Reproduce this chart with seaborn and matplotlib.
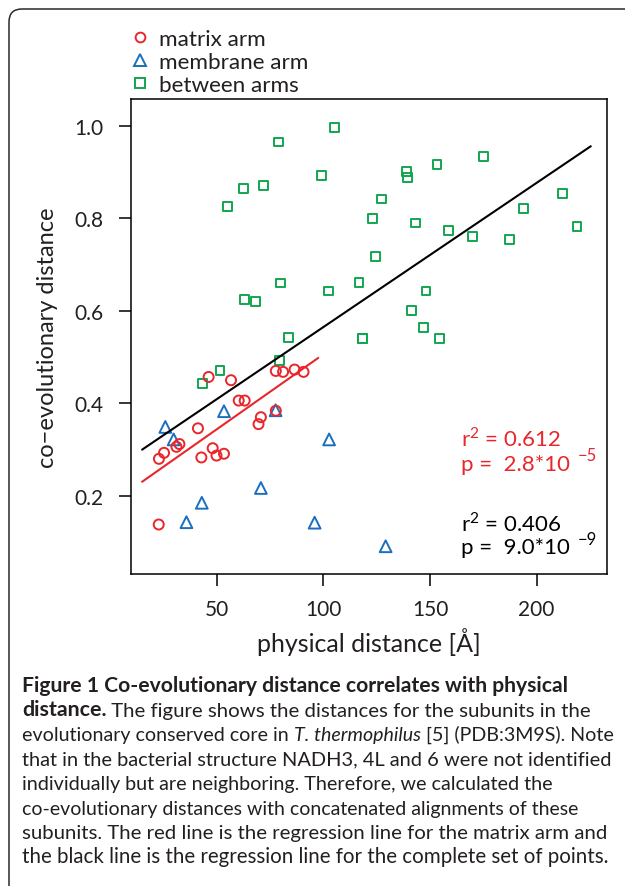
import numpy as np
import pandas as pd
import matplotlib
matplotlib.use("Agg")
import matplotlib.pyplot as plt
import seaborn as sns
from matplotlib.patches import FancyBboxPatch
from matplotlib.transforms import IdentityTransform
from matplotlib.lines import Line2D

# ---------------- data ----------------
matrix_x = [46.2, 56.7, 77.7, 81.1, 86.5, 90.7, 60.3, 63.1, 70.7, 69.6, 77.7,
            41.2, 32.5, 31.1, 25.3, 22.9, 48.1, 49.9, 53.4, 42.8, 22.8]
matrix_y = [0.457, 0.450, 0.470, 0.468, 0.473, 0.468, 0.406, 0.406, 0.370, 0.355, 0.384,
            0.346, 0.312, 0.306, 0.293, 0.280, 0.303, 0.287, 0.291, 0.283, 0.138]

membrane_x = [25.9, 29.8, 53.4, 77.6, 102.7, 70.7, 43.0, 35.8, 95.9, 129.2]
membrane_y = [0.349, 0.322, 0.383, 0.385, 0.322, 0.217, 0.185, 0.143, 0.142, 0.091]

between_x = [105.4, 78.8, 99.1, 62.7, 71.9, 55.0, 122.9, 124.6, 80.0, 63.0, 68.2, 102.4,
             116.7, 83.8, 118.2, 118.4, 79.4, 51.5, 43.3, 175.0, 153.3, 138.9, 139.5,
             127.3, 143.1, 158.6, 170.0, 187.2, 212.1, 193.7, 218.9, 148.1, 141.4,
             147.0, 154.4]
between_y = [0.997, 0.965, 0.893, 0.865, 0.871, 0.825, 0.799, 0.718, 0.660, 0.625, 0.621, 0.643,
             0.662, 0.543, 0.541, 0.540, 0.493, 0.471, 0.443, 0.933, 0.916, 0.901, 0.888,
             0.842, 0.790, 0.773, 0.761, 0.754, 0.854, 0.822, 0.782, 0.643, 0.600,
             0.564, 0.540]

group_labels = ["matrix arm", "membrane arm", "between arms"]
x_ticks = [50, 100, 150, 200]
y_ticks = [0.2, 0.4, 0.6, 0.8, 1.0]
red_stats = ["0.612", "2.8", "\u22125"]
black_stats = ["0.406", "9.0", "\u22129"]
fit_range_all = (15, 225.4)
fit_range_matrix = (15, 97.6)

caption_lines = [
    [("Figure 1 Co-evolutionary distance correlates with physical", "bold")],
    [("distance.", "bold"), (" The figure shows the distances for the subunits in the", "normal")],
    [("evolutionary conserved core in ", "normal"), ("T. thermophilus", "italic"),
     (" [5] (PDB:3M9S). Note", "normal")],
    [("that in the bacterial structure NADH3, 4L and 6 were not identified", "normal")],
    [("individually but are neighboring. Therefore, we calculated the", "normal")],
    [("co-evolutionary distances with concatenated alignments of these", "normal")],
    [("subunits. The red line is the regression line for the matrix arm and", "normal")],
    [("the black line is the regression line for the complete set of points.", "normal")],
]
# right end (px) of each caption line in the reference layout
caption_line_ends = [567, 590, 611, 613, 551, 578, 607, 608]

# ---------------- style ----------------
sns.set_style("white")
FONT = "Lato"
plt.rcParams["font.family"] = [FONT, "DejaVu Sans"]
plt.rcParams["mathtext.fontset"] = "custom"
plt.rcParams["mathtext.rm"] = FONT

RED = "#E8262B"
BLUE = "#1A6FBE"
GREEN = "#12A650"
TXT = "#231F20"

W, H = 625, 887
AX_L, AX_R, AX_T, AX_B = 131, 607, 100, 575
fig = plt.figure(figsize=(W / 100, H / 100), dpi=100)
ax = fig.add_axes([AX_L / W, 1 - AX_B / H, (AX_R - AX_L) / W, (AX_B - AX_T) / H])

def unfill(color):
    pc = ax.collections[-1]
    pc.set_facecolor("none")
    pc.set_edgecolor(color)
    pc.set_linewidth(1.4)

sns.scatterplot(x=between_x, y=between_y, marker="s", s=40, color=GREEN, ax=ax, legend=False)
unfill(GREEN)
sns.scatterplot(x=membrane_x, y=membrane_y, marker="^", s=72, color=BLUE, ax=ax, legend=False)
unfill(BLUE)
sns.scatterplot(x=matrix_x, y=matrix_y, marker="o", s=52, color=RED, ax=ax, legend=False)
unfill(RED)

# regression lines
all_x = np.array(matrix_x + membrane_x + between_x)
all_y = np.array(matrix_y + membrane_y + between_y)
b_all = np.polyfit(all_x, all_y, 1)
b_mat = np.polyfit(matrix_x, matrix_y, 1)
gx = np.linspace(*fit_range_all, 50)
sns.lineplot(x=gx, y=np.polyval(b_all, gx), color="black", lw=1.5, ax=ax)
gx2 = np.linspace(*fit_range_matrix, 50)
sns.lineplot(x=gx2, y=np.polyval(b_mat, gx2), color=RED, lw=1.5, ax=ax)

ax.set_xlim(9.8, 233.0)
ax.set_ylim(0.031, 1.058)
ax.set_xticks(x_ticks)
ax.set_yticks(y_ticks)
ax.set_xticklabels([str(t) for t in x_ticks])
ax.set_yticklabels([f"{t:.1f}" for t in y_ticks])
for s in ax.spines.values():
    s.set_visible(True)
    s.set_color("black")
    s.set_linewidth(1.1)
ax.tick_params(axis="both", direction="out", length=8.8, width=1.1, color="black",
               labelsize=15, labelcolor=TXT, bottom=True, left=True)
ax.tick_params(axis="x", pad=9)
ax.tick_params(axis="y", pad=11)
ax.set_xlabel("physical distance [\u00c5]", fontsize=18, color=TXT, labelpad=6)
ax.set_ylabel("co\u2212evolutionary distance", fontsize=17, color=TXT, labelpad=12)

# statistics annotations
def stat_block(y_r, y_p, color, stats):
    ax.text(0.693, y_r, "r$^{2}$ = " + stats[0], transform=ax.transAxes, color=color,
            fontsize=16, va="center", ha="left")
    t = ax.text(0.693, y_p, "p =  " + stats[1] + "*10", transform=ax.transAxes, color=color,
                fontsize=16, va="center", ha="left")
    ax.annotate(stats[2], xy=(1, 0.5), xycoords=t, xytext=(6, 6), textcoords="offset points",
                color=color, fontsize=12, va="center", ha="left")

stat_block(0.288, 0.232, RED, red_stats)
stat_block(0.109, 0.057, "black", black_stats)

# legend
handles = [
    Line2D([], [], ls="none", marker="o", ms=7, mfc="none", mec=RED, mew=1.4),
    Line2D([], [], ls="none", marker="^", ms=8.5, mfc="none", mec=BLUE, mew=1.4),
    Line2D([], [], ls="none", marker="s", ms=6.5, mfc="none", mec=GREEN, mew=1.4),
]
fig.legend(handles, group_labels, loc="upper left", bbox_to_anchor=(131 / W, 1 - 30 / H),
           frameon=False, fontsize=16.2, handlelength=0.8, handletextpad=0.45,
           labelspacing=0.14, borderpad=0, borderaxespad=0, labelcolor=TXT)

# frame
frame = FancyBboxPatch((9, -40), 700, H - 10 + 40, boxstyle="round,pad=0,rounding_size=13",
                       transform=IdentityTransform(), facecolor="none", edgecolor="#2a2a2a",
                       linewidth=1.1)
fig.add_artist(frame)

# caption
y0 = 686
dy = 24.45
renderer = fig.canvas.get_renderer()

def draw_line(i, segs, scale):
    y = 1 - (y0 + i * dy) / H
    arts = []
    last = None
    for txt, style in segs:
        kw = dict(color=TXT, ha="left", va="bottom")
        if style == "bold":
            kw["fontweight"] = "bold"
            kw["fontsize"] = 15.2 * scale
        else:
            kw["fontsize"] = 14.5 * scale
            if style == "italic":
                kw["fontstyle"] = "italic"
        if last is None:
            last = fig.text(22 / W, y - 9.5 / H, txt, **kw)
        else:
            last = ax.annotate(txt, xy=(1, 0), xycoords=last, annotation_clip=False, **kw)
        arts.append(last)
    return arts

for i, segs in enumerate(caption_lines):
    arts = draw_line(i, segs, 1.0)
    x_end = arts[-1].get_window_extent(renderer).x1
    width = x_end - 22
    target = caption_line_ends[i] - 22
    scale = min(1.06, max(0.94, target / width))
    for a in arts:
        a.remove()
    draw_line(i, segs, scale)

fig.savefig("out.png", dpi=100)
